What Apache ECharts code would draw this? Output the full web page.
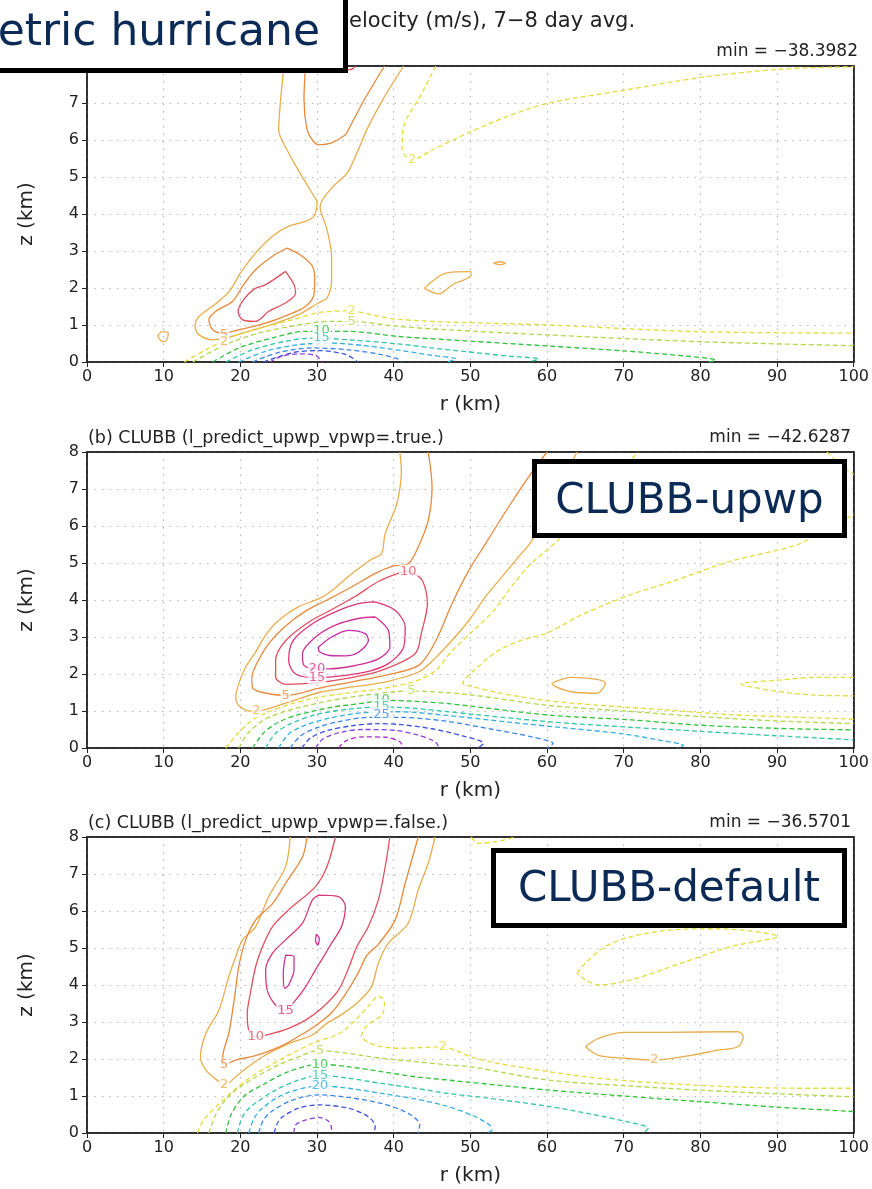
<!DOCTYPE html>
<html>
<head>
<meta charset="utf-8">
<script src="https://cdn.jsdelivr.net/npm/echarts@6/dist/echarts.min.js"></script>
<style>
  html, body { margin: 0; padding: 0; background: #fff; }
  #chart { width: 872px; height: 1189px; }
</style>
</head>
<body>
<div id="chart"></div>
<script>
// axis ticks
const rTicks = [0, 10, 20, 30, 40, 50, 60, 70, 80, 90, 100]
const zTicks = [0, 1, 2, 3, 4, 5, 6, 7, 8]

// panel titles
const titles = ['elocity (m/s), 7\u22128 day avg.', '(b) CLUBB (l_predict_upwp_vpwp=.true.)', '(c) CLUBB (l_predict_upwp_vpwp=.false.)']
const minTexts = ['min = \u221238.3982', 'min = \u221242.6287', 'min = \u221236.5701']
const boxTexts = ['etric hurricane', 'CLUBB-upwp', 'CLUBB-default']

// ---- panel (a) contours, [r km, z km] ----
const a_p2 = [[25.7,8],[25.3,7.2],[25.0,6.28],[26.3,5.65],[27.8,5.1],[29.6,4.48],[30.0,4.34],[29.6,3.94],[28.5,3.8],[26.3,3.67],[24.2,3.4],[22.0,2.95],[20.0,2.4],[18.7,1.95],[17.2,1.64],[14.6,1.23],[14.1,0.96],[14.6,0.74],[16.4,0.6],[18.1,0.65],[21.1,0.83],[24.6,1.05],[27.6,1.28],[30.2,1.6],[31.3,1.73],[31.9,2.2],[31.9,2.86],[31.3,3.58],[30.4,4.2],[31.9,4.7],[33.9,5.1],[35.2,5.65],[36.5,6.28],[38.6,7.1],[41.3,8]]
const a_p2_b = [[9.2,0.7],[9.8,0.82],[10.6,0.78],[10.4,0.6],[9.9,0.55],[9.2,0.7]]
const a_p2_c = [[44,1.99],[46.8,2.4],[50,2.44],[50.1,2.35],[47.6,2.08],[45.9,1.84],[44,1.99]]
const a_p2_d = [[53,2.67],[53.8,2.71],[54.6,2.67],[53.8,2.63],[53,2.67]]
const a_p5 = [[26.1,3.08],[27.8,2.9],[29.4,2.59],[29.7,2.23],[29.6,1.82],[28.5,1.5],[26.3,1.28],[23.3,1.05],[19.8,0.87],[17.7,0.78],[16.4,0.87],[15.9,1.14],[16.8,1.37],[19.0,1.64],[20.3,2.05],[22.0,2.5],[24.2,2.86],[26.1,3.08]]
const a_p5_top = [[28.5,8],[28.3,7.1],[28.7,6.28],[29.4,6.0],[30.2,5.87],[31.9,5.92],[33.7,6.14],[34.1,6.28],[36.2,7.1],[38.8,8]]
const a_p10 = [[25.9,2.45],[27.0,2.09],[27.2,1.86],[25.9,1.6],[23.7,1.37],[22.0,1.1],[20.3,1.14],[19.7,1.37],[20.4,1.68],[21.8,1.97],[23.3,2.09],[25.9,2.45]]
const a_p10_top = [[33.6,8],[34.1,7.9],[34.7,7.93],[35.0,8]]
const a_m2_top = [[45.5,8],[43.5,7.2],[41.3,6.36],[41.1,5.73],[42.4,5.46],[45,5.73],[50,6.22],[55,6.65],[60.2,7.0],[70.2,7.35],[79.7,7.68],[90.1,7.91],[100,7.98]]
const a_m2 = [[12.7,0],[15.5,0.33],[19,0.69],[23.3,0.96],[26.8,1.14],[29.8,1.32],[31.9,1.37],[34.1,1.38],[38.4,1.22],[40.7,1.15],[47.1,1.08],[60.2,1.0],[79.7,0.82],[100,0.78]]
const a_m5 = [[13.8,0],[18.1,0.47],[22.4,0.78],[27.6,1.0],[31.9,1.1],[34.5,1.1],[40.6,0.96],[47.1,0.87],[60.2,0.73],[79.7,0.55],[100,0.44]]
const a_m10 = [[16.4,0],[19.8,0.38],[24.2,0.65],[28.5,0.83],[34.1,0.83],[40.6,0.69],[47.1,0.6],[60.2,0.43],[70,0.3],[76,0.2],[80.5,0.11],[82,0.05],[81,0]]
const a_m15 = [[18.1,0],[21.6,0.33],[25.9,0.56],[29.8,0.65],[34.1,0.6],[40.6,0.49],[45,0.38],[49.4,0.28],[55,0.16],[58.9,0.08],[57.6,0]]
const a_m20 = [[19.8,0],[23.3,0.29],[27.6,0.47],[31.9,0.51],[36.3,0.44],[40.6,0.32],[45,0.18],[48.1,0.08],[47,0]]
const a_m25 = [[21.6,0],[25,0.26],[29.4,0.38],[34.1,0.33],[38.4,0.2],[40.6,0.08],[41,0]]
const a_m30 = [[23.0,0],[26.8,0.25],[30.2,0.31],[33.8,0.2],[35.3,0]]
const a_m35 = [[23.8,0],[25.5,0.16],[27.6,0.22],[29.8,0.18],[30.7,0]]
const a_labels = [[17.9,0.75,5],[17.9,0.55,2],[34.5,1.38,-2],[34.5,1.09,-5],[30.6,0.84,-10],[30.6,0.65,-15],[42.4,5.46,-2]]

// ---- panel (b) ----
const b_p2 = [[40.8,8],[41,7.5],[40.4,6.6],[38.9,5.8],[38.4,5.25],[37.1,5.1],[34.5,4.7],[31.9,4.25],[30.4,4.05],[27.6,3.82],[25,3.45],[23.3,3.05],[22,2.6],[20.7,2.19],[19.8,1.74],[19.4,1.38],[19.8,1.15],[21.2,1.0],[22.1,1.0],[26,1.22],[30.3,1.5],[34.6,1.65],[39,1.79],[43.3,2.06],[45.5,2.45],[48,3.0],[50,3.5],[52,4.1],[54,4.6],[56,5.1],[58,5.6],[61,6.8],[63.9,8]]
const b_p2_b = [[60.6,1.75],[63.2,1.91],[66.3,1.86],[67.6,1.75],[66.5,1.48],[63.2,1.52],[61.1,1.66],[60.6,1.75]]
const b_p5 = [[44.5,8],[45,7.05],[44.5,6.15],[43.2,5.43],[41.9,4.98],[40,4.92],[37.6,4.72],[34.5,4.35],[31.5,4.02],[28.5,3.7],[25.9,3.3],[23.8,2.85],[22.3,2.35],[21.5,1.9],[21.6,1.62],[22.9,1.5],[25.9,1.42],[30.3,1.62],[34.6,1.79],[39,1.97],[43.3,2.24],[45.5,2.9],[47.6,3.9],[49.8,4.8],[52,5.53],[55,6.52],[57.6,7.33],[60,8]]
const b_p10 = [[42,4.78],[40.6,4.72],[38,4.5],[35,4.1],[32,3.75],[28.9,3.4],[25.9,2.9],[24.6,2.37],[24.6,1.92],[25.9,1.72],[29.8,1.76],[34.1,1.89],[38.4,2.1],[42.8,2.55],[43.6,3.1],[44.4,3.91],[43.7,4.54],[42,4.78]]
const b_p15 = [[37.6,3.95],[40.2,3.72],[41.5,3.27],[41.3,2.73],[39.3,2.28],[36.3,2.05],[31.9,1.92],[30,1.9],[27.2,2.0],[26.3,2.37],[26.9,2.91],[29.4,3.36],[32.4,3.68],[35.4,3.9],[37.6,3.95]]
const b_p20 = [[37.6,3.54],[39.3,3.18],[39.5,2.73],[38,2.41],[35,2.23],[31.5,2.14],[30,2.14],[28.3,2.23],[28.1,2.55],[29.8,3.0],[32.4,3.32],[35.4,3.5],[37.6,3.54]]
const b_p25 = [[30.2,2.73],[31.9,3.0],[34.1,3.18],[36.3,3.09],[36.7,2.91],[35.4,2.59],[33.7,2.49],[31.7,2.5],[30.2,2.64],[30.2,2.73]]
const b_m2 = [[18.1,0],[19.5,0.35],[21.6,0.76],[24,1.0],[27,1.22],[30.3,1.38],[34.6,1.5],[40,1.66],[43.3,1.84],[45.5,2.1],[47.5,2.6],[50,3.1],[53,3.7],[55.5,4.4],[58,5.0],[61,5.53],[66.7,6.8],[71.9,8]]
const b_m2_v = [[100,0.78],[90,0.85],[84,0.9],[75.4,1.03],[66.5,1.16],[60,1.28],[53.4,1.5],[50.5,1.65],[49,1.75],[50.5,2.1],[53.4,2.6],[56.5,2.9],[59.9,3.1],[64.5,3.6],[71,4.15],[76.3,4.5],[84,5.05],[92.7,5.5],[97,6.0],[100,6.3]]
const b_m2_w = [[100,1.91],[94.9,1.91],[90.5,1.84],[85.3,1.73],[90.5,1.52],[94.9,1.43],[100,1.41]]
const b_m2_top = [[96.5,8],[98.5,7.6],[100,7.4]]
const b_m5 = [[19.8,0],[21,0.4],[23,0.75],[26,1.0],[30.3,1.22],[34.6,1.38],[40,1.52],[42.3,1.54],[49.4,1.45],[60.2,1.15],[70,1.0],[80,0.85],[90,0.73],[100,0.66]]
const b_m10 = [[21.6,0],[23,0.4],[25,0.7],[27.6,0.9],[31.9,1.1],[36.3,1.22],[38.4,1.29],[42.8,1.26],[47.1,1.2],[60.2,0.89],[71,0.76],[79.7,0.62],[90.1,0.53],[100,0.49]]
const b_m15 = [[23.3,0],[24.6,0.4],[26.5,0.65],[29.8,0.9],[34.1,1.05],[38.4,1.11],[42.8,1.07],[47.1,0.98],[60.2,0.71],[71,0.56],[80,0.45],[90,0.33],[100,0.22]]
const b_m20 = [[25,0],[26.3,0.38],[28.5,0.62],[31.9,0.82],[36.3,0.96],[40.7,0.98],[47,0.88],[55,0.7],[62,0.55],[70,0.38],[75,0.2],[77.8,0.07],[77,0]]
const b_m25 = [[26.5,0],[27.8,0.32],[30,0.55],[33,0.72],[37,0.83],[40.7,0.83],[47,0.72],[53,0.5],[58,0.3],[60.8,0.12],[60,0]]
const b_m30 = [[28,0],[29.2,0.28],[31.5,0.48],[34.5,0.6],[38,0.66],[41,0.63],[45,0.52],[49,0.33],[51.7,0.12],[51,0]]
const b_m35 = [[29.8,0],[30.8,0.25],[33,0.42],[36,0.5],[40,0.48],[43,0.36],[45.3,0.18],[45.8,0.05],[45.5,0]]
const b_m40 = [[32.8,0],[33.8,0.2],[36,0.3],[39,0.29],[40.8,0.17],[41.1,0.05],[40.9,0]]
const b_labels = [[41.9,4.78,10],[30,2.15,20],[30,1.91,15],[25.9,1.42,5],[22.1,1.0,2],[42.3,1.54,-5],[38.4,1.3,-10],[38.4,1.13,-15],[38.4,0.9,-25]]

// ---- panel (c) ----
const c_p2 = [[26.5,8],[25.9,7.2],[23.7,6.39],[22,5.58],[20.3,5.22],[19.4,4.77],[18.5,4.23],[17.2,3.32],[15.5,2.69],[14.8,2.06],[15.5,1.7],[17.2,1.39],[17.9,1.3],[19.9,1.61],[22.9,2.06],[26.4,2.42],[29.4,2.65],[31.2,2.95],[33.2,3.2],[35.4,3.55],[37.1,3.95],[38,4.59],[39.3,5.13],[41.9,5.67],[43.2,6.57],[44.5,7.29],[45.4,8]]
const c_p2_b = [[65,2.33],[66.7,2.56],[70.2,2.72],[75.4,2.72],[84.9,2.74],[85.6,2.6],[84.9,2.33],[82.3,2.24],[78.8,2.1],[74,1.97],[70.2,2.02],[66.7,2.1],[65,2.33]]
const c_p5 = [[28.7,8],[28.1,7.46],[25.9,6.75],[24.2,6.2],[22,5.76],[20.7,5.22],[19.8,4.5],[19.2,3.6],[18.5,2.69],[17.7,2.06],[17.9,1.84],[19.4,1.97],[22.1,2.1],[25.1,2.33],[27.5,2.6],[29.8,2.9],[31.9,3.25],[33.7,3.75],[35.3,4.3],[36.5,4.8],[38,5.1],[40.2,5.76],[41.5,6.75],[43.2,8]]
const c_p10 = [[32.4,8],[31.3,7.2],[29.8,6.66],[26.3,6.03],[24.2,5.58],[22.9,5.04],[22,4.5],[21.3,3.77],[20.9,3.23],[21.1,2.78],[22,2.6],[24.2,2.69],[26.3,2.83],[28.5,3.05],[30.6,3.37],[32.8,3.86],[34.2,4.5],[35.2,5.04],[36.7,5.58],[38,6.3],[38.9,7.2],[39.5,8]]
const c_p15 = [[30.2,6.43],[32.8,6.39],[33.7,6.12],[33.2,5.58],[31.9,5.13],[30.6,4.68],[29.8,4.41],[28.5,3.95],[27.2,3.59],[25.9,3.32],[24.6,3.46],[23.5,3.86],[23.3,4.41],[24.2,4.86],[25.9,5.22],[28.1,5.67],[29.4,6.3],[30.2,6.43]]
const c_p20 = [[25.9,4.81],[27,4.77],[27,4.41],[26.3,4.0],[25.8,3.91],[25.6,4.32],[25.9,4.81]]
const c_p20_b = [[29.9,5.37],[30.3,5.25],[30.1,5.08],[29.8,5.2],[29.9,5.37]]
const c_m2 = [[14.4,0],[15.2,0.35],[17.3,0.8],[20.8,1.43],[25.1,1.97],[29.4,2.42],[32.9,2.69],[35,3.05],[36.8,3.45],[38,3.7],[38.8,3.55],[38.5,3.2],[36.5,2.9],[35.8,2.62],[37.5,2.38],[40.6,2.29],[44.9,2.32],[46.4,2.33],[48.5,2.2],[50,2.06],[53.7,1.88],[60.2,1.66],[66.7,1.48],[75.4,1.34],[84,1.25],[92.7,1.21],[100,1.21]]
const c_m2_b = [[63.9,4.32],[65,4.59],[67.6,5.04],[71,5.31],[76.3,5.49],[82.3,5.52],[90.1,5.31],[84,5.04],[77.5,4.59],[71,4.14],[66.7,4.0],[65,4.14],[63.9,4.32]]
const c_m2_top = [[50.1,8],[51.1,7.83],[53.5,7.88],[55.9,8]]
const c_m5 = [[15.9,0],[16.8,0.5],[18.5,1.0],[21.1,1.4],[24.6,1.8],[27.6,2.06],[30.2,2.23],[34.1,2.15],[38.4,2.02],[42.8,1.93],[47.1,1.84],[50,1.79],[60.2,1.43],[70,1.28],[79.7,1.16],[90,1.06],[100,0.98]]
const c_m10 = [[18.1,0],[18.8,0.5],[20.5,1.0],[22.9,1.3],[26.3,1.66],[30.4,1.86],[34.1,1.79],[38.4,1.66],[42.8,1.52],[47.1,1.43],[60.2,1.16],[70,1.0],[79.7,0.85],[90,0.7],[100,0.58]]
const c_m15 = [[19.6,0],[20.3,0.45],[21.6,0.75],[24.6,1.16],[27.6,1.43],[30.4,1.56],[34.1,1.48],[38.4,1.34],[42.8,1.21],[47.1,1.07],[52,0.95],[60.2,0.72],[66,0.5],[70.5,0.3],[73.2,0.13],[72.5,0]]
const c_m20 = [[21.1,0],[21.8,0.4],[22.9,0.68],[25.9,1.07],[30.4,1.27],[34.1,1.21],[38.4,1.07],[42.8,0.92],[46.5,0.75],[50,0.5],[52.5,0.22],[52.8,0.08],[52.2,0]]
const c_m25 = [[22.4,0],[23,0.35],[24.2,0.6],[26.8,0.89],[30.2,1.03],[34.1,0.96],[38.4,0.8],[41.9,0.53],[43.4,0.22],[43.2,0]]
const c_m30 = [[24.4,0],[24.8,0.25],[25.5,0.44],[27.6,0.67],[30.2,0.76],[34.1,0.67],[36.7,0.44],[37.6,0.17],[37.4,0]]
const c_m35 = [[27,0],[27.2,0.22],[28.5,0.35],[30.2,0.42],[31.5,0.32],[31.9,0.1],[31.7,0]]
const c_labels = [[25.9,3.32,15],[22,2.6,10],[17.9,1.84,5],[17.9,1.3,2],[30.4,2.23,-5],[30.4,1.86,-10],[30.4,1.56,-15],[30.4,1.27,-20],[46.4,2.33,-2],[74,1.97,2]]

const panels = [
  [[2,a_p2],[2,a_p2_b],[2,a_p2_c],[2,a_p2_d],[5,a_p5],[5,a_p5_top],[10,a_p10],[10,a_p10_top],
   [-2,a_m2_top],[-2,a_m2],[-5,a_m5],[-10,a_m10],[-15,a_m15],[-20,a_m20],[-25,a_m25],[-30,a_m30],[-35,a_m35]],
  [[2,b_p2],[2,b_p2_b],[5,b_p5],[10,b_p10],[15,b_p15],[20,b_p20],[25,b_p25],
   [-2,b_m2],[-2,b_m2_v],[-2,b_m2_w],[-2,b_m2_top],[-5,b_m5],[-10,b_m10],[-15,b_m15],[-20,b_m20],[-25,b_m25],[-30,b_m30],[-35,b_m35],[-40,b_m40]],
  [[2,c_p2],[2,c_p2_b],[5,c_p5],[10,c_p10],[15,c_p15],[20,c_p20],[20,c_p20_b],
   [-2,c_m2],[-2,c_m2_b],[-2,c_m2_top],[-5,c_m5],[-10,c_m10],[-15,c_m15],[-20,c_m20],[-25,c_m25],[-30,c_m30],[-35,c_m35]]
]
const labelSets = [a_labels, b_labels, c_labels]

const levelColors = {
  '2':'#e8ad4c', '5':'#e8893c', '10':'#e2505e', '15':'#dc3878', '20':'#d23294', '25':'#c42aa8',
  '-2':'#e4dc3a', '-5':'#b2d64a', '-10':'#30c23c', '-15':'#2ec6a6', '-20':'#2fb2e2',
  '-25':'#3a86e8', '-30':'#3d50e0', '-35':'#8a3fe0', '-40':'#a82dc8'
}

const gridTops = [66, 452, 837]
const font = 'DejaVu Sans'

const myChart = echarts.init(document.getElementById('chart'))

const grids = [], xAxes = [], yAxes = [], series = [], graphics = []
const frameX = [], frameY = []

gridTops.forEach((top, i) => {
  grids.push({ left: 87, top: top, width: 769, height: 296, show: true, borderColor: '#222', borderWidth: 1.5, backgroundColor: 'transparent' })
  xAxes.push({
    type: 'value', gridIndex: i, min: rTicks[0], max: rTicks[rTicks.length - 1], interval: 10,
    name: 'r (km)', nameLocation: 'middle', nameGap: 33,
    nameTextStyle: { fontSize: 20, color: '#222', fontFamily: font },
    axisLine: { onZero: false, lineStyle: { color: '#222', width: 1.5 } },
    axisTick: { show: true, length: 5, lineStyle: { color: '#222' } },
    axisLabel: { fontSize: 16, color: '#222', margin: 7, fontFamily: font },
    splitLine: { show: true, lineStyle: { color: '#b8b8b8', width: 1.2, type: [1.5, 6] } }
  })
  yAxes.push({
    type: 'value', gridIndex: i, min: zTicks[0], max: zTicks[zTicks.length - 1], interval: 1,
    name: 'z (km)', nameLocation: 'middle', nameGap: 50,
    nameTextStyle: { fontSize: 20, color: '#222', fontFamily: font },
    axisLine: { onZero: false, lineStyle: { color: '#222', width: 1.5 } },
    axisTick: { show: true, length: 5, lineStyle: { color: '#222' } },
    axisLabel: { fontSize: 16, color: '#222', margin: 8, fontFamily: font },
    splitLine: { show: true, lineStyle: { color: '#b8b8b8', width: 1.2, type: [1.5, 6] } }
  })
  // plain top / right frame lines
  frameX.push({ type: 'value', gridIndex: i, position: 'top', min: 0, max: 100,
    axisLine: { onZero: false, lineStyle: { color: '#222', width: 1.5 } },
    axisTick: { show: false }, axisLabel: { show: false }, splitLine: { show: false } })
  frameY.push({ type: 'value', gridIndex: i, position: 'right', min: 0, max: 8,
    axisLine: { onZero: false, lineStyle: { color: '#222', width: 1.5 } },
    axisTick: { show: false }, axisLabel: { show: false }, splitLine: { show: false } })

  panels[i].forEach(([level, pts]) => {
    series.push({
      type: 'line', xAxisIndex: i, yAxisIndex: i, data: pts,
      smooth: 0.3, showSymbol: false, symbol: 'none', silent: true, z: 2,
      lineStyle: { color: levelColors[level], width: 1.3, type: level < 0 ? [5, 3] : 'solid' }
    })
  })

  series.push({
    type: 'scatter', xAxisIndex: i, yAxisIndex: i, symbolSize: 1, silent: true, z: 5,
    itemStyle: { color: 'rgba(0,0,0,0)' },
    data: labelSets[i].map(l => ({ value: [l[0], l[1]], name: String(Math.abs(l[2])), label: { color: levelColors[l[2]] } })),
    label: { show: true, position: 'inside', formatter: '{b}', fontSize: 13, fontFamily: font, backgroundColor: '#fff', padding: [0, 1] }
  })

  // panel title + min value
  graphics.push({ type: 'text', x: i === 0 ? 349 : 88, y: i === 0 ? 22 : top - 14, z: 50,
    style: { text: titles[i], fontSize: i === 0 ? 21 : 17.5, fontFamily: font, fill: '#222', align: 'left', verticalAlign: 'middle' } })
  graphics.push({ type: 'text', x: i === 0 ? 858 : 851, y: top - 14, z: 50,
    style: { text: minTexts[i], fontSize: 17, fontFamily: font, fill: '#222', align: 'right', verticalAlign: 'middle' } })
})

// overlay boxes
const boxes = [
  { x: -20, y: -20, w: 365.5, h: 90.5, tx: 320, ty: 34, align: 'right' },
  { x: 534.5, y: 461.5, w: 310, h: 74, tx: 689.5, ty: 502, align: 'center' },
  { x: 493.5, y: 850.5, w: 351, h: 75, tx: 669, ty: 890, align: 'center' }
]
boxes.forEach((b, i) => {
  graphics.push({ type: 'rect', z: 100, shape: { x: b.x, y: b.y, width: b.w, height: b.h },
    style: { fill: '#fff', stroke: '#000', lineWidth: 5 } })
  graphics.push({ type: 'text', z: 101, x: b.tx, y: b.ty,
    style: { text: boxTexts[i], fontSize: i === 0 ? 44 : 42, fontFamily: font, fill: '#0b2a55', align: b.align, verticalAlign: 'middle' } })
})

const option = {
  animation: false,
  backgroundColor: '#fff',
  grid: grids,
  xAxis: xAxes.concat(frameX),
  yAxis: yAxes.concat(frameY),
  series: series,
  graphic: graphics
}

option && myChart.setOption(option)
</script>
</body>
</html>
